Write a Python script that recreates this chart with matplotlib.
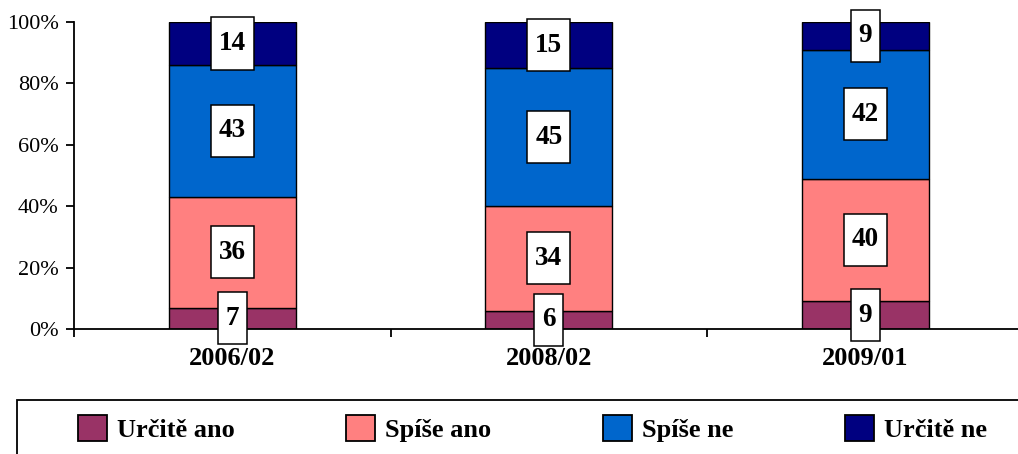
import matplotlib
matplotlib.use("Agg")
import matplotlib.pyplot as plt
from matplotlib.patches import Rectangle
from matplotlib.path import Path
import numpy as np

# data (percent)
periods = ["2006/02", "2008/02", "2009/01"]
series_names = ["Určitě ano", "Spíše ano", "Spíše ne", "Určitě ne"]
urcite_ano = [7, 6, 9]
spise_ano = [36, 34, 40]
spise_ne = [43, 45, 42]
urcite_ne = [14, 15, 9]
colors = ["#993366", "#FF8080", "#0066CC", "#000080"]

plt.rcParams['font.family'] = ['Liberation Serif', 'DejaVu Serif']


def label_box(x0, y0, width, height, mutation_size):
    # rectangle with more room above/below than left/right
    padx = 0.29 * mutation_size
    pady = 0.5 * mutation_size
    x0, x1 = x0 - padx, x0 + width + padx
    y0, y1 = y0 - pady, y0 + height + pady
    return Path([(x0, y0), (x1, y0), (x1, y1), (x0, y1), (x0, y0)], closed=True)


fig = plt.figure(figsize=(10.18, 4.54), dpi=100)
ax = fig.add_axes([74 / 1018, 1 - 329 / 454, 949.5 / 1018, 307 / 454])

x = np.arange(len(periods))
series = [urcite_ano, spise_ano, spise_ne, urcite_ne]
bottom = np.zeros(len(periods))
for name, vals, col in zip(series_names, series, colors):
    vals = np.array(vals, dtype=float)
    ax.bar(x, vals, 0.4, bottom=bottom, color=col, edgecolor='black',
           linewidth=1.0, label=name, zorder=2)
    for xi, b, v in zip(x, bottom, vals):
        ax.text(xi, b + v / 2, f"{int(v)}", ha='center', va='center',
                fontsize=19.5, fontweight='bold', zorder=4,
                bbox=dict(boxstyle=label_box, facecolor='white',
                          edgecolor='black', linewidth=1.1))
    bottom += vals

ax.set_xlim(-0.5, 2.5)
ax.set_ylim(0, 100)
ax.set_yticks([0, 20, 40, 60, 80, 100])
ax.set_yticklabels([f"{v}%" for v in [0, 20, 40, 60, 80, 100]], fontsize=16)
ax.set_xticks(x)
ax.set_xticklabels(periods, fontsize=19, fontweight='bold')
ax.set_xticks([-0.5, 0.5, 1.5, 2.5], minor=True)
ax.tick_params(axis='x', which='major', length=0, pad=13)
ax.tick_params(axis='x', which='minor', length=6, width=1.3, direction='out')
ax.tick_params(axis='y', length=6, width=1.3, direction='out', pad=5)

for s in ['top', 'right']:
    ax.spines[s].set_visible(False)
for s in ['left', 'bottom']:
    ax.spines[s].set_linewidth(1.3)
    ax.spines[s].set_color('black')

# legend frame runs off the right and bottom edge of the picture
fig.add_artist(Rectangle((17 / 1018, -0.1), 1.1, 1 - 400 / 454 + 0.1,
                         transform=fig.transFigure, facecolor='none',
                         edgecolor='black', linewidth=1.3, clip_on=False))

handles, labels = ax.get_legend_handles_labels()
leg = fig.legend(handles, labels, ncol=4, loc='upper left',
                 bbox_to_anchor=(78 / 1018, 1 - 415 / 454), frameon=False,
                 borderpad=0, borderaxespad=0, handlelength=1.08,
                 handleheight=1.15, handletextpad=0.38, columnspacing=4.25,
                 prop={'size': 19, 'weight': 'bold'})
for p in leg.get_patches():
    p.set_edgecolor('black')
    p.set_linewidth(1.3)

fig.savefig("out.png", dpi=100)
